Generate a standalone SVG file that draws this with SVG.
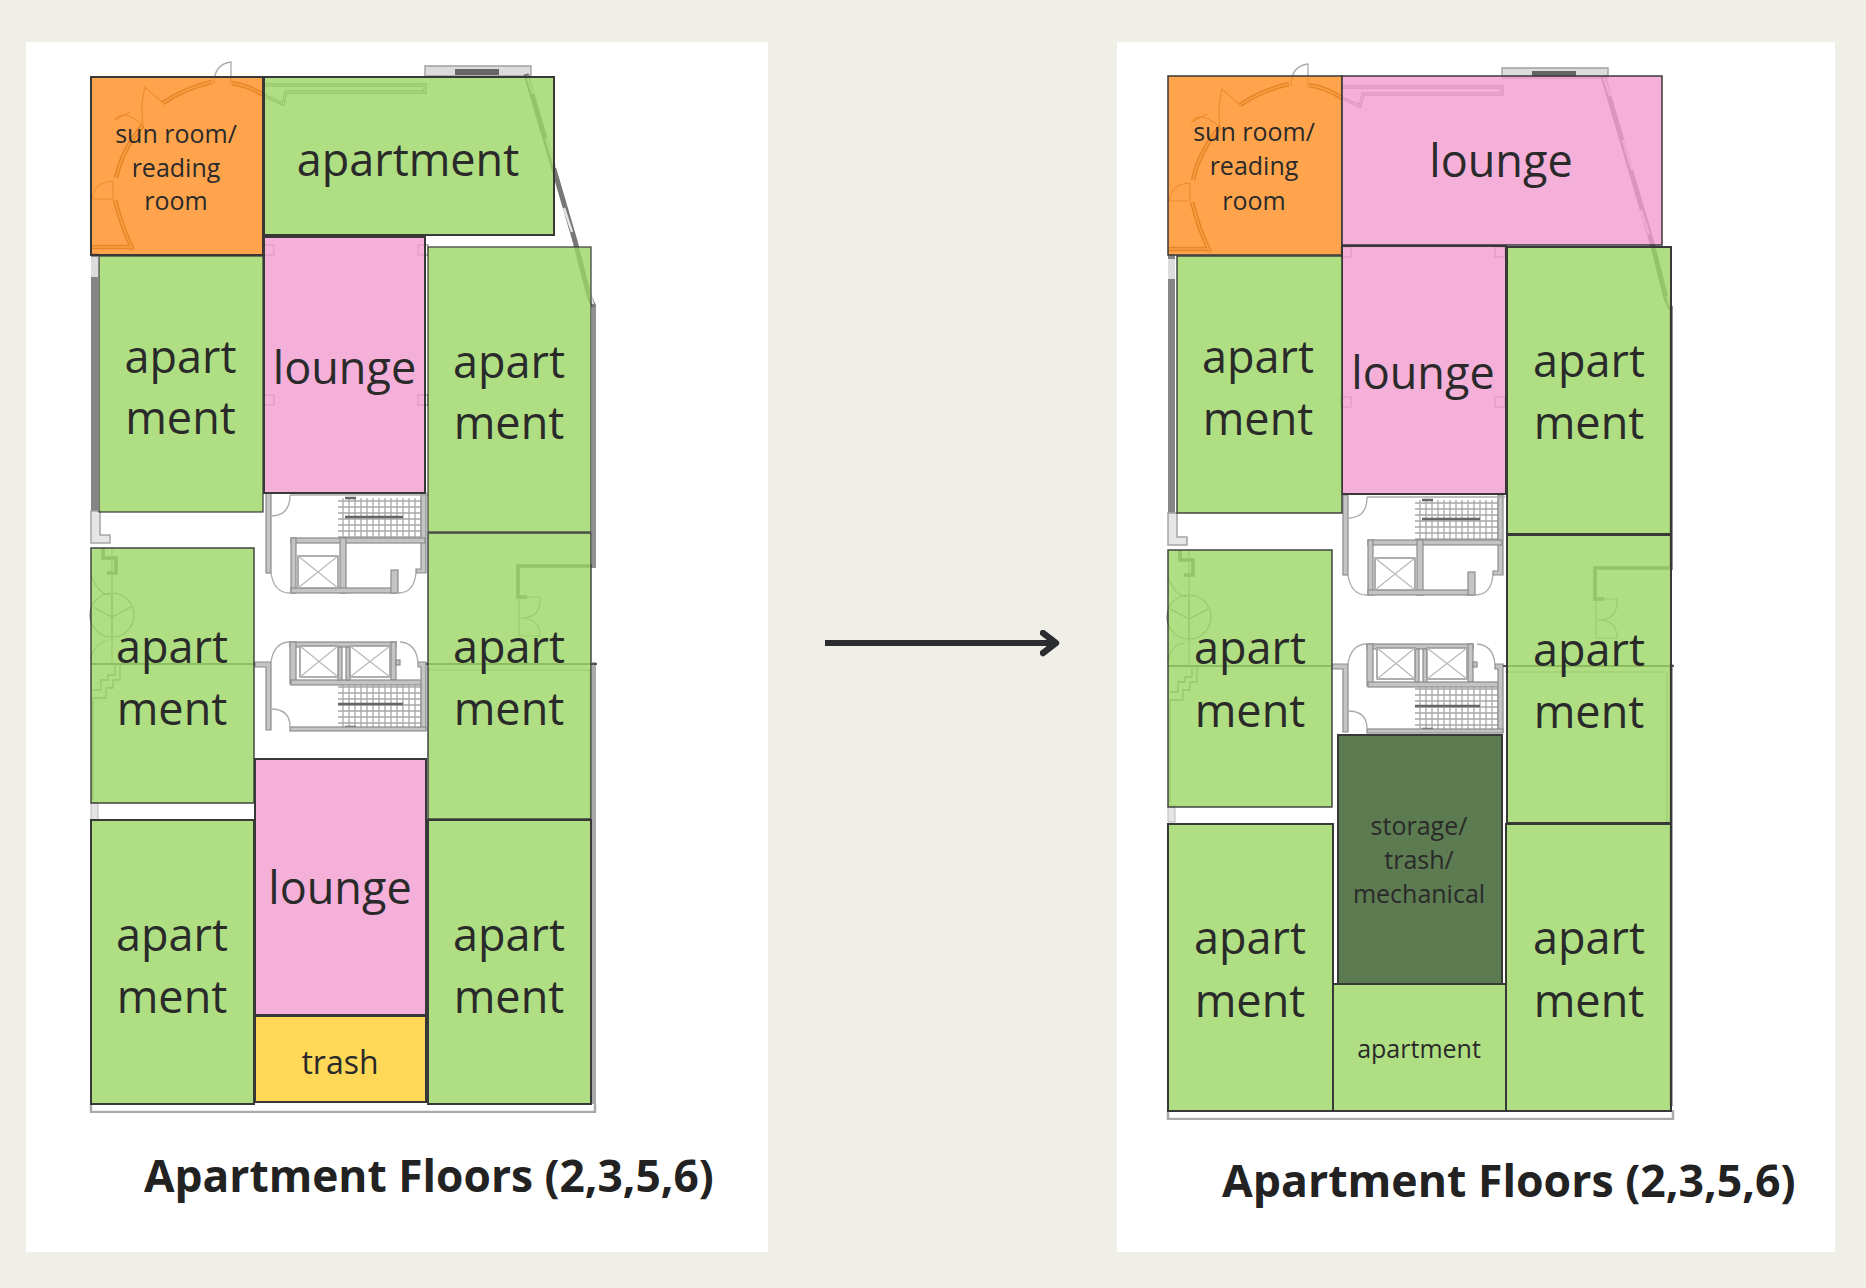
<svg xmlns="http://www.w3.org/2000/svg" width="1866" height="1288" viewBox="0 0 1866 1288">
<style>
.apt{fill:#9bd763;fill-opacity:.8}
.lng{fill:#f19ccf;fill-opacity:.8}
.sun{fill:#ff8d1f;fill-opacity:.8}
.tr{fill:#ffd858}
.sto{fill:#5c7b51}
.o{stroke:#383838;stroke-width:2}
.t{font-family:"Open Sans","Noto Sans",sans-serif;fill:#2a2a2a;text-anchor:middle}
.big{font-size:45px}
.sm{font-size:25px}
.mid{font-size:32px}
.title{font-family:"Open Sans","Noto Sans",sans-serif;font-weight:700;fill:#222}
.wall{fill:#c4c4c4;stroke:#8c8c8c;stroke-width:1.2}
.thin{fill:none;stroke:#aaa;stroke-width:1.3}
.ln{fill:none;stroke:#999;stroke-width:1.3}
.dbl{fill:none;stroke:#777;stroke-width:5}
.dbl2{fill:none;stroke:#e4e4e4;stroke-width:2.4}
.x{fill:#fff;stroke:#9a9a9a;stroke-width:1.6}
.x2{fill:none;stroke:#b8b8b8;stroke-width:1.2}
.stl{stroke:#666;stroke-width:2.4;fill:none}
</style>
<defs>
<pattern id="hatch" width="6" height="6" patternUnits="userSpaceOnUse"><path d="M1 0V6M0 3H6" stroke="#a8a8a8" stroke-width="1.3" fill="none"/></pattern>
<marker id="ah" markerUnits="userSpaceOnUse" markerWidth="24" markerHeight="30" refX="16" refY="13" orient="auto"><path d="M3 3L16 13L3 23" fill="none" stroke="#2b2c30" stroke-width="6.5" stroke-linecap="round" stroke-linejoin="round"/></marker>
<filter id="soft" x="-5%" y="-5%" width="110%" height="110%"><feGaussianBlur stdDeviation=".6"/></filter>
<g id="core">
<!-- upper core -->
<rect x="338" y="498" width="83" height="40" fill="url(#hatch)"/>
<path class="stl" d="M345 498H356M345 517H403"/>
<rect class="wall" x="266" y="493" width="5" height="80"/>
<path class="wall" d="M421 493H426V573H416V569H421Z"/>
<path class="thin" d="M290 495H428"/>
<rect class="wall" x="291" y="538" width="134" height="5"/>
<rect class="wall" x="291" y="538" width="5" height="55"/>
<rect class="wall" x="340" y="538" width="6" height="55"/>
<rect class="wall" x="291" y="588" width="105" height="5"/>
<rect class="wall" x="391" y="570" width="7" height="23"/>
<rect class="x" x="298" y="556" width="40" height="32"/><path class="x2" d="M298 556L338 588M338 556L298 588"/>
<path class="thin" d="M271 516Q290 516 290 495M271 573Q274 593 290 593M398 593Q414 593 416 573"/>
<!-- lower core -->
<rect x="338" y="684" width="83" height="43" fill="url(#hatch)"/>
<path class="stl" d="M338 704H403M345 727H356"/>
<rect class="wall" x="290" y="642" width="106" height="5"/>
<rect class="wall" x="290" y="642" width="6" height="42"/>
<rect class="wall" x="391" y="642" width="5" height="38"/>
<rect class="wall" x="396" y="660" width="4" height="5"/>
<rect class="wall" x="291" y="680" width="134" height="5"/>
<rect class="wall" x="338" y="647" width="4" height="33"/><rect class="wall" x="346" y="647" width="4" height="33"/>
<rect class="x" x="300" y="646" width="38" height="31"/><path class="x2" d="M300 646L338 677M338 646L300 677"/>
<rect class="x" x="350" y="646" width="40" height="31"/><path class="x2" d="M350 646L390 677M390 646L350 677"/>
<path class="wall" d="M255 662H271V730H266V667H255Z"/>
<path class="wall" d="M418 662H426V730H421V667H418Z"/>
<rect class="wall" x="290" y="727" width="136" height="4"/>
<path class="thin" d="M271 709Q290 709 290 727M271 662Q274 642 290 642M400 642Q416 643 418 662"/>
</g>
<g id="plan" filter="url(#soft)">
<use href="#core"/>
<!-- west wall -->
<rect x="91" y="253" width="7" height="258" fill="#858585"/>
<rect x="91" y="257" width="7" height="20" fill="#dcdcdc"/>
<path d="M91 511V543H110V535H100V511Z" fill="#e6e6e6" stroke="#a5a5a5" stroke-width="1.5"/>
<rect x="91" y="803" width="7" height="17" fill="#e4e4e4" stroke="#bbb"/>
<!-- east wall -->
<rect x="592" y="306" width="4" height="262" fill="#929292"/>
<rect x="592" y="662" width="4" height="442" fill="#aaa"/>
<!-- north windows -->
<path d="M425 76V66H531V76Z" fill="#dcdcdc" stroke="#a0a0a0" stroke-width="1.4"/>
<rect x="455" y="69" width="44" height="6" fill="#666"/>
<path class="dbl" d="M526 74L575 241L589 296L594 307"/>
<path class="dbl2" d="M527 76L533 94M546 138L555 168M564 208L572 232M590 294L593 304"/>
<path class="thin" d="M214 84Q214 64 231 62V84"/>
<!-- sun room curved wall -->
<path fill="none" stroke="#7b6a50" stroke-width="4.6" d="M163 103Q185 88 212 82M232 83Q250 86 265 96M116 178Q122 150 143 125M115 200Q122 228 133 250M92 247H131"/>
<path fill="none" stroke="#eadcc6" stroke-width="1.4" d="M163 103Q185 88 212 82M232 83Q250 86 265 96M116 178Q122 150 143 125M115 200Q122 228 133 250M92 247H131"/>
<path fill="none" stroke="#a08a6a" stroke-width="1.2" d="M143 125Q140 105 145 87L163 103M143 125Q122 108 115 120L130 112M92 199Q94 182 113 181V199H92"/>
<!-- north wall notch -->
<path d="M264 85H425V92H286L283 104L265 96" fill="none" stroke="#888" stroke-width="3.4"/>
<path d="M264 85H425V92H286L283 104L265 96" fill="none" stroke="#eee" stroke-width="1"/>
<!-- pillars -->
<g class="ln"><rect x="264" y="245" width="10" height="10"/><rect x="418" y="245" width="10" height="10"/><rect x="264" y="395" width="10" height="10"/><rect x="418" y="395" width="10" height="10"/></g>
<!-- plan details under the apartments -->
<path d="M91 664H255M426 664H597" stroke="#555" stroke-width="2.2" fill="none"/>
<path d="M103 548V558H116V573H107" fill="none" stroke="#777" stroke-width="3.6"/>
<circle cx="112" cy="615" r="22" fill="none" stroke="#888" stroke-width="1.2"/>
<path d="M112 594V640M93 607L112 617L131 607" fill="none" stroke="#888" stroke-width="1.2"/>
<path d="M91 575Q98 594 110 595M91 660Q94 642 108 641" fill="none" stroke="#999" stroke-width="1.1"/>
<path d="M112 548V664" fill="none" stroke="#999" stroke-width="1.1"/>
<path d="M115 664V675H108V680H101V690H93M120 664V680H113V688H106V698H93V800" fill="none" stroke="#888" stroke-width="1.3"/>
<path d="M592 566H518V597H527" fill="none" stroke="#777" stroke-width="3.6"/>
<path d="M519 597H540V600Q540 618 521 618Q540 618 540 636H519V597" fill="none" stroke="#999" stroke-width="1.1"/>
<path d="M428 670H590V820" fill="none" stroke="#999" stroke-width="1.2"/>
</g>
</defs>
<rect width="1866" height="1288" fill="#efefe8"/>
<rect x="26" y="42" width="742" height="1210" fill="#fff"/>
<rect x="1117" y="42" width="718" height="1210" fill="#fff"/>
<use href="#plan"/>
<use href="#plan" transform="translate(1077 2)"/>
<path d="M91 1104V1112H595V1104" fill="none" stroke="#aaa" stroke-width="2.5" filter="url(#soft)"/>
<path d="M1168 1110V1119H1673V1110" fill="none" stroke="#aaa" stroke-width="2.5" filter="url(#soft)"/>

<g id="left-sun"><rect class="sun o" x="91" y="77" width="172" height="178"/><text class="t sm" x="176" y="143">sun room/</text><text class="t sm" x="176" y="177">reading</text><text class="t sm" x="176" y="210">room</text></g>
<g id="left-apt-top"><rect class="apt o" x="264" y="77" width="290" height="158"/><text class="t big" x="408" y="176">apartment</text></g>
<g id="left-lounge-1"><rect class="lng o" x="264" y="237" width="161" height="256"/><text class="t big" x="344.500" y="384">lounge</text></g>
<g id="left-apt-1"><rect class="apt o" style="stroke-width:1.2" x="99" y="256" width="164" height="256"/><text class="t big" x="180.500" y="373">apart</text><text class="t big" x="180.500" y="434">ment</text></g>
<g id="left-apt-2"><rect class="apt o" style="stroke-width:1.2" x="428" y="247" width="163" height="285"/><text class="t big" x="509" y="378">apart</text><text class="t big" x="509" y="439">ment</text></g>
<g id="left-apt-3"><rect class="apt o" style="stroke-width:1.4" x="428" y="533" width="163" height="286"/><text class="t big" x="509" y="663">apart</text><text class="t big" x="509" y="725">ment</text></g>
<g id="left-apt-4"><rect class="apt o" style="stroke-width:1.4" x="91" y="548" width="163" height="255"/><text class="t big" x="172" y="663">apart</text><text class="t big" x="172" y="725">ment</text></g>
<g id="left-lounge-2"><rect class="lng o" x="255" y="759" width="171" height="256"/><text class="t big" x="340" y="904">lounge</text></g>
<g id="left-trash"><rect class="tr o" x="255" y="1016" width="171" height="86"/><text class="t mid" x="340" y="1074">trash</text></g>
<g id="left-apt-5"><rect class="apt o" x="91" y="820" width="163" height="284"/><text class="t big" x="172" y="951">apart</text><text class="t big" x="172" y="1013">ment</text></g>
<g id="left-apt-6"><rect class="apt o" x="428" y="820" width="163" height="284"/><text class="t big" x="509" y="951">apart</text><text class="t big" x="509" y="1013">ment</text></g>
<text id="left-title" class="title" style="font-size:44.3px" x="144" y="1192">Apartment Floors (2,3,5,6)</text>

<g id="connectors"><path d="M825 643H1056" fill="none" stroke="#2b2c30" stroke-width="6" marker-end="url(#ah)"/></g>

<g id="right-sun"><rect class="sun o" style="stroke-width:1.5" x="1168" y="76" width="174" height="179"/><text class="t sm" x="1254" y="141">sun room/</text><text class="t sm" x="1254" y="175">reading</text><text class="t sm" x="1254" y="210">room</text></g>
<g id="right-lounge-top"><rect class="lng o" style="stroke-width:1.5" x="1342" y="76" width="320" height="169"/><text class="t big" x="1501" y="177">lounge</text></g>
<g id="right-lounge-mid"><rect class="lng o" x="1342" y="246" width="164" height="248"/><text class="t big" x="1423" y="389">lounge</text></g>
<g id="right-apt-1"><rect class="apt o" style="stroke-width:1.4" x="1177" y="256" width="165" height="257"/><text class="t big" x="1258" y="373">apart</text><text class="t big" x="1258" y="435">ment</text></g>
<g id="right-apt-2"><rect class="apt o" x="1507" y="247" width="164" height="287"/><text class="t big" x="1589" y="377">apart</text><text class="t big" x="1589" y="439">ment</text></g>
<g id="right-apt-3"><rect class="apt o" x="1507" y="535" width="164" height="288"/><text class="t big" x="1589" y="666">apart</text><text class="t big" x="1589" y="728">ment</text></g>
<g id="right-apt-4"><rect class="apt o" style="stroke-width:1.4" x="1168" y="550" width="164" height="257"/><text class="t big" x="1250" y="664">apart</text><text class="t big" x="1250" y="727">ment</text></g>
<g id="right-storage"><rect class="sto o" x="1338" y="735" width="164" height="249"/><text class="t sm" x="1419" y="835">storage/</text><text class="t sm" x="1419" y="869">trash/</text><text class="t sm" x="1419" y="903">mechanical</text></g>
<g id="right-apt-bottom"><rect class="apt o" x="1333" y="984" width="173" height="127"/><text class="t sm" x="1419" y="1058">apartment</text></g>
<g id="right-apt-5"><rect class="apt o" x="1168" y="824" width="165" height="287"/><text class="t big" x="1250" y="954">apart</text><text class="t big" x="1250" y="1017">ment</text></g>
<g id="right-apt-6"><rect class="apt o" x="1506" y="824" width="165" height="287"/><text class="t big" x="1589" y="954">apart</text><text class="t big" x="1589" y="1017">ment</text></g>
<text id="right-title" class="title" style="font-size:44.6px" x="1222" y="1197">Apartment Floors (2,3,5,6)</text>
</svg>
